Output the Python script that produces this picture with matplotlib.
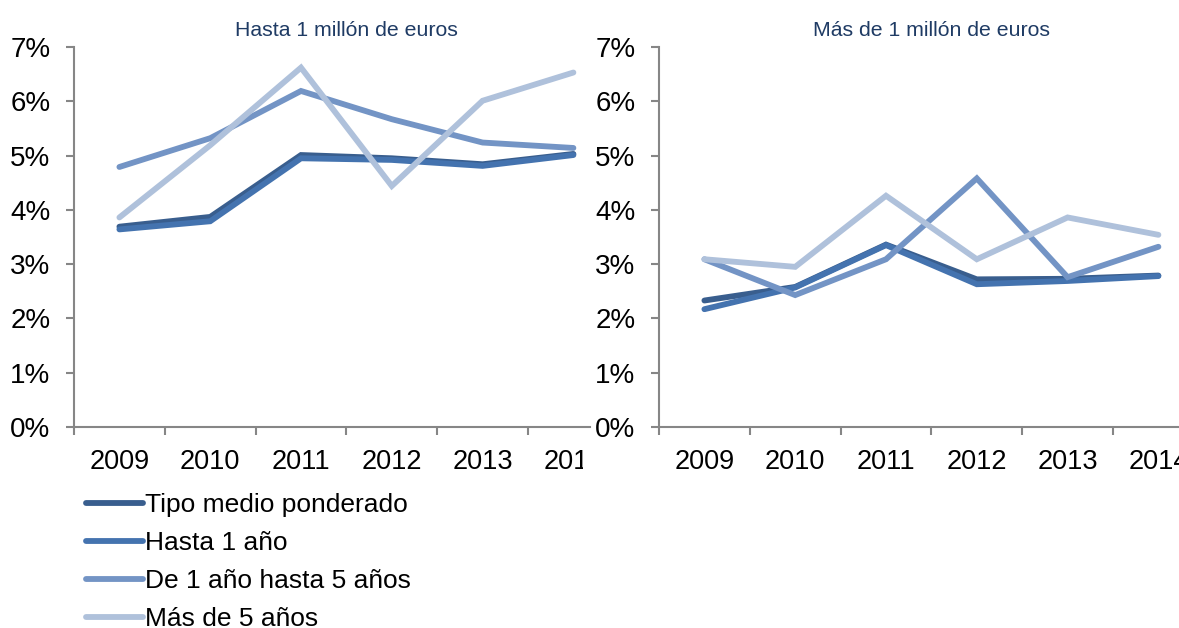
import matplotlib
matplotlib.use("Agg")
import matplotlib.pyplot as plt
from matplotlib.patches import Rectangle
from matplotlib.ticker import FuncFormatter

plt.rcParams['font.family'] = ['Liberation Sans', 'DejaVu Sans']

years = ['2009', '2010', '2011', '2012', '2013', '2014']
series_names = ['Tipo medio ponderado', 'Hasta 1 año', 'De 1 año hasta 5 años', 'Más de 5 años']
colors = ['#395E8E', '#4473AF', '#7394C5', '#AFC1DB']

# Hasta 1 millón de euros (%)
small_tipo = [3.69, 3.87, 5.01, 4.95, 4.84, 5.03]
small_1 = [3.64, 3.79, 4.95, 4.92, 4.81, 5.01]
small_1_5 = [4.79, 5.32, 6.19, 5.67, 5.24, 5.14]
small_5 = [3.86, 5.19, 6.62, 4.44, 6.01, 6.53]

# Más de 1 millón de euros (%)
big_tipo = [2.33, 2.58, 3.36, 2.72, 2.73, 2.79]
big_1 = [2.17, 2.57, 3.35, 2.63, 2.69, 2.78]
big_1_5 = [3.09, 2.43, 3.09, 4.58, 2.76, 3.32]
big_5 = [3.09, 2.95, 4.26, 3.09, 3.86, 3.54]

W, H = 1179, 628
fig = plt.figure(figsize=(W / 100, H / 100), dpi=100)

step = 90.8  # pixels per category
bottom = (H - 427) / H
height = (427 - 47) / H
ax1 = fig.add_axes([74 / W, bottom, (590 - 74) / W, height])
ax2 = fig.add_axes([659 / W, bottom, 6 * step / W, height])

gray = '#868686'
xs = [i + 0.5 for i in range(len(years))]


def style(ax, xmax, title):
    ax.set_yticks(range(0, 8))
    ax.yaxis.set_major_formatter(FuncFormatter(lambda v, p: '%d%%' % v))
    ax.set_xticks(range(0, 7), minor=False)
    ax.set_xticklabels([])
    ax.set_xticks(xs, minor=True)
    ax.set_xticklabels(years, minor=True)
    ax.set_xlim(0, xmax)
    ax.set_ylim(0, 7)
    ax.tick_params(axis='x', which='minor', length=0, labelsize=19.5, pad=16)
    ax.tick_params(axis='x', which='major', length=6, width=1.5, color=gray, direction='out')
    ax.tick_params(axis='y', length=6, width=1.5, color=gray, labelsize=20, pad=11)
    for s in ['top', 'right']:
        ax.spines[s].set_visible(False)
    for s in ['left', 'bottom']:
        ax.spines[s].set_color(gray)
        ax.spines[s].set_linewidth(1.5)
    ax.set_title(title, fontsize=15.3, color='#1F3B64', pad=8)


panels = [
    (ax1, [small_tipo, small_1, small_1_5, small_5], (590 - 74) / step, 'Hasta 1 millón de euros'),
    (ax2, [big_tipo, big_1, big_1_5, big_5], 6, 'Más de 1 millón de euros'),
]
for ax, data, xmax, title in panels:
    for vals, name, c in zip(data, series_names, colors):
        ax.plot(xs, vals, color=c, lw=4.2, label=name, solid_capstyle='round',
                solid_joinstyle='miter', clip_on=False)
    style(ax, xmax, title)

# titles sit over the full (uncut) width of each chart
ax1.title.set_x(3 / ax1.get_xlim()[1])

# the left chart is cut off where the right one starts
fig.patches.append(Rectangle((583 / W, 0.2), 35 / W, (H - 442) / H - 0.2,
                             transform=fig.transFigure, facecolor='white',
                             edgecolor='none', zorder=10))

handles, labels = ax1.get_legend_handles_labels()
fig.legend(handles, labels, loc='upper left', bbox_to_anchor=(86 / W, 1 - 493 / H),
           frameon=False, fontsize=19, handlelength=2.15, handletextpad=0.08,
           labelspacing=0.53, borderpad=0, borderaxespad=0)

fig.savefig('out.png', dpi=100)
